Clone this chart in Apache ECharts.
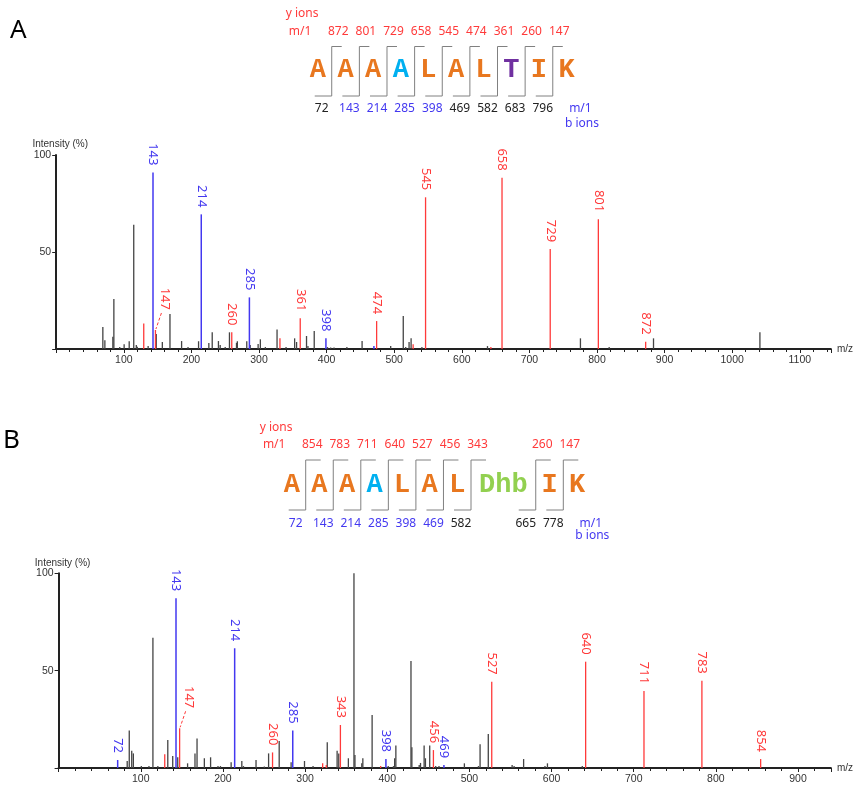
<!DOCTYPE html>
<html><head><meta charset="utf-8">
<script src="https://cdn.jsdelivr.net/npm/echarts@6/dist/echarts.min.js"></script>
<style>html,body{margin:0;padding:0;background:#fff}#c{width:854px;height:786px}</style>
</head><body><div id="c"></div><script>
// ---------------- DATA ----------------
// Peptide A
const seqA = ['A','A','A','A','L','A','L','T','I','K'];
const yIonsA = [872,801,729,658,545,474,361,260,147];
const bIonsA = [72,143,214,285,398,469,582,683,796];
const bObservedA = [143,214,285,398];
// Peptide B
const seqB = ['A','A','A','A','L','A','L','Dhb','I','K'];
const yIonsB = [854,783,711,640,527,456,343,260,147];
const bIonsB = [72,143,214,285,398,469,582,665,778];
const bObservedB = [72,143,214,285,398,469];

// Spectrum A : [m/z, intensity %, label]
const specA_other = [[69,11.3],[72,4.5],[83.8,6.3],[85.3,25.8],[94,1],[100.5,2.4],[108,4],[114.7,64],[118.5,2],[120,1.2],[136,1.6],[148,7.7],[157,3.6],[168.3,18],[185.5,4.1],[195,1],[210.6,4],[225.8,3.1],[230.8,8.6],[240,4.1],[242.6,2],[250,1],[256.3,8.6],[266.7,3.2],[268,4],[281.9,4],[287,2],[298.7,2.6],[302,5],[309.4,1],[326.7,10],[340,1],[352.7,5.5],[355.6,3.6],[370.3,6.7],[372.4,1.5],[381.7,9.3],[401.3,1],[406,0.8],[411,0.8],[430,1],[452.5,4.1],[494.8,1.5],[513.4,17],[517,1],[522,3.6],[525,5.5],[541,1],[638,1.5],[775.5,5.5],[818,1],[883.6,5.5],[1041,8.6]];
const specA_b = [[143.2,91,'143'],[214.6,69.4,'214'],[285.8,26.6,'285'],[399,5.5,'398'],[470,1.5,'']];
const specA_y = [[129.5,13.2,''],[146.8,9.8,'147'],[259.7,8.6,'260'],[331,5.5,''],[361,15.8,'361'],[474,14.4,'474'],[528,2.4,''],[546.4,78.2,'545'],[643,1,''],[659.5,88.3,'658'],[730.8,51.5,'729'],[802,66.9,'801'],[872,3.8,'872']];

// Spectrum B
const specB_other = [[83.5,3.6],[86,19.2],[89,8.9],[91,7.5],[100.7,1],[110,1],[114.8,66.9],[120.8,1],[132.9,14.4],[138.9,6.2],[145,5.5],[157,2.4],[166,7.5],[168.5,15.2],[177.4,5],[185,5.5],[194,1],[197,1],[210,2.9],[223,3.6],[225,1],[240.3,4.1],[250.4,0.8],[255.6,7.5],[268.5,13.9],[283,2.9],[299.3,3.6],[309.7,1],[327,13.2],[339,8.9],[341,7.5],[352.7,5],[359.5,100],[360.7,6.7],[369,2.4],[370.3,5],[381.6,27.2],[401.2,1],[407.6,1],[409,5],[410.5,11.5],[428.9,55],[430,10.6],[438.9,1.5],[440.5,2.6],[444.9,11.5],[446.5,5],[451.7,11.5],[459,1],[463,1],[493.9,2.4],[511,1],[513,12.2],[523,17.5],[552,1.5],[554.4,1],[566,4.6],[592,1],[595,2.4],[637.4,1]];
const specB_b = [[71.9,4.1,'72'],[142.9,87.2,'143'],[214.3,61.5,'214'],[285,19.2,'285'],[398.4,4.6,'398'],[469,1.5,'469']];
const specB_y = [[129.2,7,''],[147.3,20.4,'147'],[260.4,8,'260'],[321.4,2.4,''],[325.8,1.5,''],[343,22.1,'343'],[392,1,''],[456.2,9.2,'456'],[527.2,44.3,'527'],[641.5,54.6,'640'],[712.5,39.5,'711'],[783,44.8,'783'],[854.5,4.6,'854']];

// ---------------- STYLE / LAYOUT ----------------
const COL = {red:'#ff3a3a', blue:'#4338f0', black:'#222', grey:'#444', orange:'#e8771f', cyan:'#00b0f0', purple:'#7030a0', green:'#92d050', bracket:'#808080', axis:'#222', axisText:'#333'};
const resColorsA = [COL.orange,COL.orange,COL.orange,COL.cyan,COL.orange,COL.orange,COL.orange,COL.purple,COL.orange,COL.orange];
const resColorsB = [COL.orange,COL.orange,COL.orange,COL.cyan,COL.orange,COL.orange,COL.orange,COL.green,COL.orange,COL.orange];
const LETTER_FONT = 'bold 27px "Liberation Mono", monospace';
const NUM_FONT = '12px "Noto Sans", sans-serif';
const PEAK_FONT = '13px "Noto Sans", sans-serif';
const leaderLabels = ['147'];

function headerSeries(idx, seq, colors, yIons, bIons, bBlue, o) {
  const widths = seq.map(r => 1 + (r.length - 1) * 0.675);
  const starts = []; let acc = 0;
  widths.forEach(w => { starts.push(acc); acc += w; });
  const last = seq.length - 1;
  return {
    type: 'custom', xAxisIndex: idx, yAxisIndex: idx, clip: false, silent: true,
    data: seq.map((r, i) => [starts[i] + widths[i] / 2, 0.5]),
    renderItem(params, api) {
      const i = params.dataIndex;
      const c = api.coord([api.value(0), 0.5]);
      const cy = c[1];
      const ch = [{type:'text', x:c[0], y:cy + o.letterDy, style:{text:seq[i], font:LETTER_FONT, fill:colors[i], align:'center', verticalAlign:'middle'}}];
      if (i < last) {
        const bx = api.coord([starts[i] + widths[i], 0.5])[0];
        ch.push({type:'polyline', shape:{points:[[bx - 17, cy + o.bot], [bx, cy + o.bot], [bx, cy + o.top], [bx + o.topLen, cy + o.top]]}, style:{stroke:COL.bracket, lineWidth:1, fill:null}});
        ch.push({type:'text', x:bx + 6.5, y:cy + o.yNum, style:{text:String(yIons[i]), font:NUM_FONT, fill:COL.red, align:'center', verticalAlign:'middle'}});
        ch.push({type:'text', x:bx - 10, y:cy + o.bNum, style:{text:String(bIons[i]), font:NUM_FONT, fill:bBlue.indexOf(bIons[i]) >= 0 ? COL.blue : COL.black, align:'center', verticalAlign:'middle'}});
      }
      if (i === 0) {
        const sx = api.coord([0, 0.5])[0];
        ch.push({type:'text', x:sx - 2, y:cy + o.yLab, style:{text:'y ions', font:NUM_FONT, fill:COL.red, align:'center', verticalAlign:'middle'}});
        ch.push({type:'text', x:sx - 4, y:cy + o.yNum, style:{text:'m/1', font:NUM_FONT, fill:COL.red, align:'center', verticalAlign:'middle'}});
      }
      if (i === last) {
        const ex = api.coord([acc, 0.5])[0];
        ch.push({type:'text', x:ex, y:cy + o.bNum, style:{text:'m/1', font:NUM_FONT, fill:COL.blue, align:'center', verticalAlign:'middle'}});
        ch.push({type:'text', x:ex + 1.5, y:cy + o.bLab, style:{text:'b ions', font:NUM_FONT, fill:COL.blue, align:'center', verticalAlign:'middle'}});
      }
      return {type:'group', children: ch};
    }
  };
}

function stickSeries(idx, data, color, width) {
  return {
    type: 'custom', xAxisIndex: idx, yAxisIndex: idx, clip: false, silent: true,
    data: data.map(d => [d[0], d[1]]),
    renderItem(params, api) {
      const raw = data[params.dataIndex];
      const p0 = api.coord([api.value(0), 0]);
      const p1 = api.coord([api.value(0), api.value(1)]);
      const ch = [{type:'line', shape:{x1:p0[0], y1:p0[1], x2:p1[0], y2:p1[1]}, style:{stroke:color, lineWidth:width}}];
      const lab = raw[2];
      if (lab) {
        if (leaderLabels.indexOf(lab) >= 0) {
          ch.push({type:'text', x:p1[0] + 9, y:p1[1] - 20, rotation:-Math.PI/2, style:{text:lab, font:PEAK_FONT, fill:color, align:'right', verticalAlign:'middle'}});
          ch.push({type:'line', shape:{x1:p1[0] + 6, y1:p1[1] - 17, x2:p1[0] + 0.5, y2:p1[1] - 1}, style:{stroke:color, lineWidth:1, lineDash:[3,2]}});
        } else {
          ch.push({type:'text', x:p1[0], y:p1[1] - 7, rotation:-Math.PI/2, style:{text:lab, font:PEAK_FONT, fill:color, align:'right', verticalAlign:'middle'}});
        }
      }
      return {type:'group', children: ch};
    }
  };
}

const hiddenX = (max) => ({type:'value', min:0, max:max, show:false});
const hiddenY = () => ({type:'value', min:0, max:1, show:false});
function specX(gi, max) {
  return {type:'value', gridIndex:gi, min:0, max:max, interval:100,
    axisLine:{show:true, onZero:false, lineStyle:{color:COL.axis, width:2}},
    axisTick:{show:true, length:4, lineStyle:{color:COL.axis, width:1}},
    minorTick:{show:true, splitNumber:5, length:3, lineStyle:{color:COL.axis, width:1}},
    splitLine:{show:false}, minorSplitLine:{show:false},
    axisLabel:{margin:6, fontSize:10.5, color:COL.axisText, fontFamily:'Liberation Sans', formatter:v => (v > 0 && v % 100 === 0) ? String(v) : ''},
    name:'m/z', nameLocation:'end', nameGap:6, nameTextStyle:{fontSize:10, color:COL.axisText, fontFamily:'Liberation Sans'}};
}
function specY(gi) {
  return {type:'value', gridIndex:gi, min:0, max:100, interval:50,
    axisLine:{show:true, lineStyle:{color:COL.axis, width:2}},
    axisTick:{show:true, length:4, lineStyle:{color:COL.axis, width:1}},
    splitLine:{show:false},
    axisLabel:{margin:5, fontSize:10.5, color:COL.axisText, fontFamily:'Liberation Sans', formatter:v => v > 0 ? String(v) : ''},
    name:'Intensity (%)', nameLocation:'end', nameGap:5, nameTextStyle:{fontSize:10, color:COL.axisText, fontFamily:'Liberation Sans', align:'center', padding:[0,0,0,8]}};
}

const chart = echarts.init(document.getElementById('c'), null, {renderer:'canvas'});
const optsA = {letterDy:0, top:-23.5, bot:26, topLen:10, yNum:-38.3, bNum:38.3, yLab:-56.7, bLab:54};
const optsB = {letterDy:0, top:-25, bot:25, topLen:15, yNum:-40, bNum:38.3, yLab:-57, bLab:51};
chart.setOption({
  animation:false,
  backgroundColor:'#fff',
  grid:[
    {left:304.1, top:20, width:276.3, height:100},
    {left:56.2, top:155, width:777, height:194},
    {left:278.15, top:435, width:312.7, height:100},
    {left:58.6, top:573.3, width:781.1, height:194.7}
  ],
  xAxis:[
    Object.assign(hiddenX(10), {gridIndex:0}),
    specX(1, 1146),
    Object.assign(hiddenX(11.35), {gridIndex:2}),
    specX(3, 940)
  ],
  yAxis:[
    Object.assign(hiddenY(), {gridIndex:0}),
    specY(1),
    Object.assign(hiddenY(), {gridIndex:2}),
    specY(3)
  ],
  graphic:[
    {type:'text', left:10, top:18, style:{text:'A', font:'26px "Noto Sans", sans-serif', fill:'#000'}},
    {type:'text', left:3, top:428, style:{text:'B', font:'26px "Noto Sans", sans-serif', fill:'#000'}}
  ],
  series:[
    headerSeries(0, seqA, resColorsA, yIonsA, bIonsA, bObservedA, optsA),
    stickSeries(1, specA_other, COL.grey, 1.3),
    stickSeries(1, specA_y, COL.red, 1.3),
    stickSeries(1, specA_b, COL.blue, 1.5),
    headerSeries(2, seqB, resColorsB, yIonsB, bIonsB, bObservedB, optsB),
    stickSeries(3, specB_other, COL.grey, 1.3),
    stickSeries(3, specB_y, COL.red, 1.3),
    stickSeries(3, specB_b, COL.blue, 1.5)
  ]
});
</script></body></html>
